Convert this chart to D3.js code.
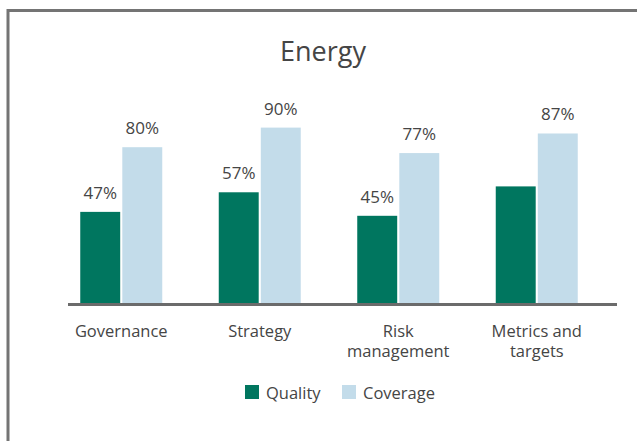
<!DOCTYPE html>
<html>
<head>
<meta charset="utf-8">
<script src="https://cdn.jsdelivr.net/npm/d3@7"></script>
<style>
  body { margin: 0; background: #fff; }
  text { font-family: "Open Sans", sans-serif; fill: #454545; }
</style>
</head>
<body>
<div id="chart"></div>
<script>
// data
const categories = ["Governance", "Strategy", "Risk management", "Metrics and targets"];
const series = ["Quality", "Coverage"];
const quality = [47, 57, 45, 60];
const coverage = [80, 90, 77, 87];
// the metrics/targets quality bar has no label in the original
const qualityLabelShown = [true, true, true, false];
const coverageLabelShown = [true, true, true, true];
const labelLines = [["Governance"], ["Strategy"], ["Risk", "management"], ["Metrics and", "targets"]];

const colors = { Quality: "#00765f", Coverage: "#c3dcea" };

const W = 637, H = 441;
const svg = d3.select("#chart").append("svg")
  .attr("width", W)
  .attr("height", H);

// outer frame, runs off the right and bottom of the picture
svg.append("rect")
  .attr("x", 8).attr("y", 10.5)
  .attr("width", W + 20).attr("height", H + 20)
  .attr("fill", "none")
  .attr("stroke", "#747474")
  .attr("stroke-width", 3);

svg.append("text")
  .attr("x", 323).attr("y", 61)
  .attr("text-anchor", "middle")
  .style("font-size", "27px")
  .text("Energy");

const rows = categories.map((c, i) => ({
  cat: c,
  values: [
    { key: "Quality", v: quality[i], show: qualityLabelShown[i] },
    { key: "Coverage", v: coverage[i], show: coverageLabelShown[i] }
  ]
}));

const x0 = d3.scaleBand().domain(categories).range([52, 606]);
const x1 = d3.scaleBand().domain(series).range([-41, 41]).paddingInner(0.05);
const y = d3.scaleLinear().domain([0, 100]).range([304, 108]);

const groups = svg.selectAll(".grp")
  .data(rows)
  .join("g")
  .attr("class", "grp")
  .attr("transform", d => `translate(${x0(d.cat) + x0.bandwidth() / 2},0)`);

groups.selectAll("rect")
  .data(d => d.values)
  .join("rect")
  .attr("x", d => x1(d.key))
  .attr("width", x1.bandwidth())
  .attr("y", d => y(d.v))
  .attr("height", d => y(0) - y(d.v))
  .attr("fill", d => colors[d.key]);

groups.selectAll(".val")
  .data(d => d.values.filter(v => v.show))
  .join("text")
  .attr("class", "val")
  .attr("x", d => x1(d.key) + x1.bandwidth() / 2)
  .attr("y", d => y(d.v) - 13)
  .attr("text-anchor", "middle")
  .style("font-size", "17px")
  .text(d => d.v + "%");

// baseline
svg.append("line")
  .attr("x1", x0.range()[0] + 16).attr("x2", x0.range()[1] + 11)
  .attr("y1", y(0) + 0.5).attr("y2", y(0) + 0.5)
  .attr("stroke", "#6b6b6b")
  .attr("stroke-width", 3);

// category labels
const xAxis = svg.append("g")
  .attr("transform", `translate(0,${y(0)})`)
  .call(d3.axisBottom(x0).tickSize(0).tickFormat(""));
xAxis.select(".domain").remove();
xAxis.selectAll(".tick").each(function (d, i) {
  const t = d3.select(this).append("text")
    .attr("text-anchor", "middle")
    .style("font-size", "16.5px");
  labelLines[i].forEach((line, j) => {
    t.append("tspan").attr("x", 0).attr("y", 33 + j * 20).text(line);
  });
});

// legend
const legend = svg.append("g").attr("transform", "translate(245,385)");
const legendX = [0, 97];
series.forEach((s, i) => {
  const g = legend.append("g").attr("transform", `translate(${legendX[i]},0)`);
  g.append("rect").attr("width", 14).attr("height", 14).attr("fill", colors[s]);
  g.append("text").attr("x", 21).attr("y", 14).style("font-size", "16.5px").text(s);
});
</script>
</body>
</html>
